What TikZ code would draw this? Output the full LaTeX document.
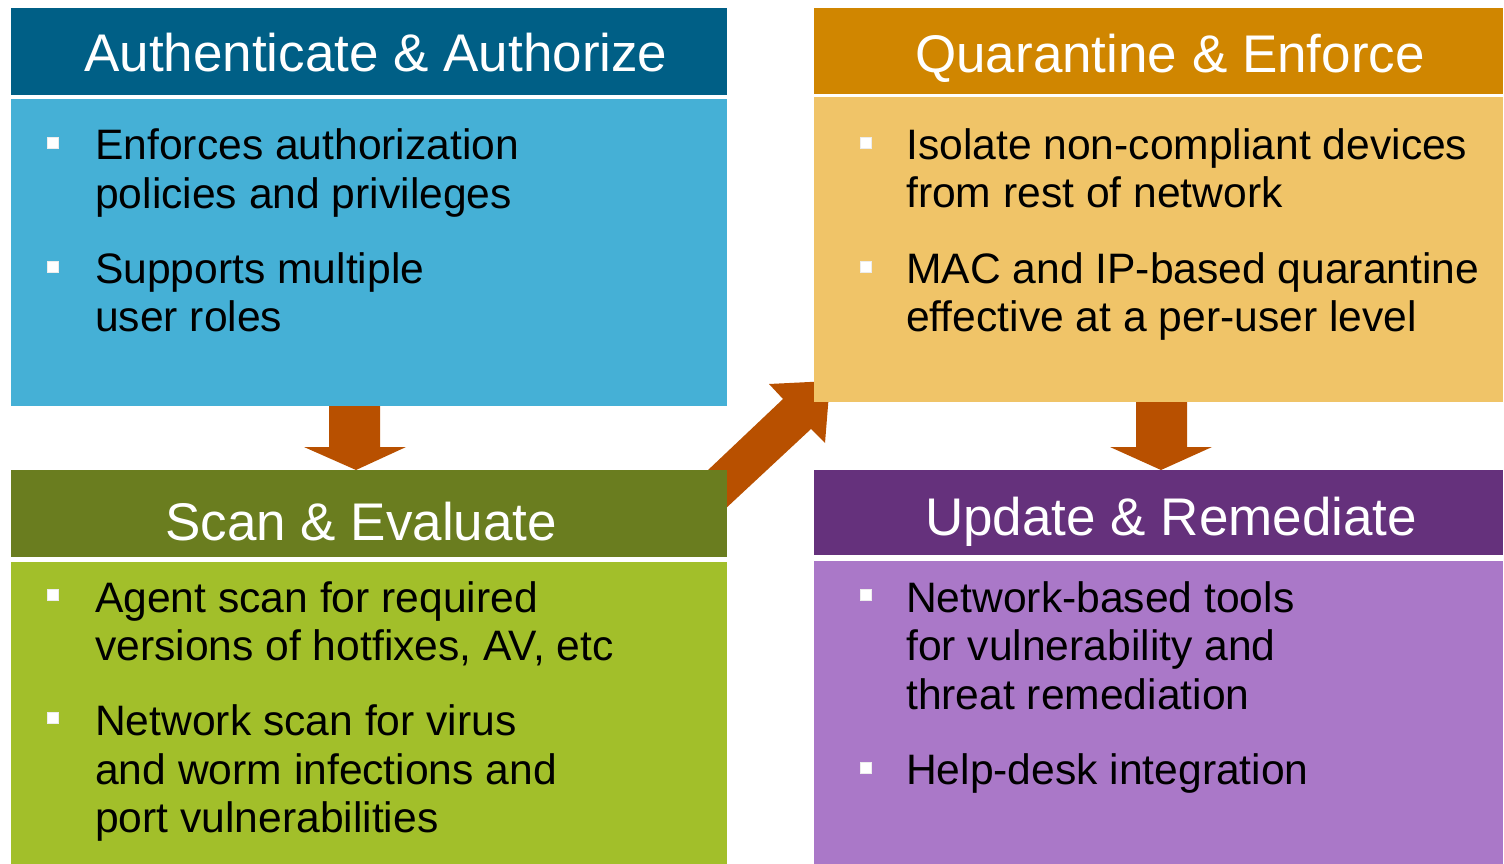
\documentclass[tikz,border=0pt]{standalone}
\usepackage{fontspec}
\setmainfont{Liberation Sans}
\definecolor{hdA}{HTML}{005F86}
\definecolor{bdA}{HTML}{45B0D6}
\definecolor{hdB}{HTML}{6A7D1F}
\definecolor{bdB}{HTML}{A2BF2A}
\definecolor{hdC}{HTML}{D08600}
\definecolor{bdC}{HTML}{F0C468}
\definecolor{hdD}{HTML}{65317C}
\definecolor{bdD}{HTML}{AA78C8}
\definecolor{arr}{HTML}{B85000}
\begin{document}
\begin{tikzpicture}[x=1pt,y=-1pt,
  box/.style={rectangle,inner sep=0pt,anchor=north west,draw=none},
  htxt/.style={anchor=base west,inner sep=0pt,text=white,font=\fontsize{53}{60}\selectfont},
  ln/.style={anchor=base west,inner sep=0pt,font=\fontsize{42.6}{48}\selectfont},
  bul/.style={rectangle,fill=white,draw=white!85!gray,line width=0.6pt,minimum size=11pt,inner sep=0pt}]
\useasboundingbox (0,0) rectangle (1504,864);
% diagonal arrow (behind boxes)
\fill[arr] (650,525) -- (783,399) -- (769,384) -- (830,381) -- (825,443) -- (811,429) -- (680,551) -- cycle;
% boxes
\node[box,fill=hdA,minimum width=716pt,minimum height=87pt] (hA) at (11,8) {};
\node[box,fill=bdA,minimum width=716pt,minimum height=307pt] (bA) at (11,99) {};
\node[box,fill=hdB,minimum width=716pt,minimum height=87pt] (hB) at (11,470) {};
\node[box,fill=bdB,minimum width=716pt,minimum height=302pt] (bB) at (11,562) {};
\node[box,fill=hdC,minimum width=689pt,minimum height=86pt] (hC) at (814,8) {};
\node[box,fill=bdC,minimum width=689pt,minimum height=305pt] (bC) at (814,97) {};
\node[box,fill=hdD,minimum width=689pt,minimum height=85pt] (hD) at (814,470) {};
\node[box,fill=bdD,minimum width=689pt,minimum height=303pt] (bD) at (814,561) {};
% header texts
\node[htxt] (xA) at (84,72) {Authenticate \& Authorize};
\node[htxt] (xB) at (165,540) {Scan \& Evaluate};
\node[htxt] (xC) at (915,73) {Quarantine \& Enforce};
\node[htxt] (xD) at (925,535) {Update \& Remediate};
% down arrows
\fill[arr] (329,406) -- (380,406) -- (380,447) -- (406,447) -- (356,470) -- (304,447) -- (329,447) -- cycle;
\fill[arr] (1136,402) -- (1187,402) -- (1187,447) -- (1212,447) -- (1161,470) -- (1110,447) -- (1136,447) -- cycle;
% bullets
\node[bul] (uA1) at (53,143) {};
\node[bul] (uA2) at (53,267) {};
\node[bul] (uB1) at (53,595) {};
\node[bul] (uB2) at (53,718) {};
\node[bul] (uC1) at (866,143) {};
\node[bul] (uC2) at (866,267) {};
\node[bul] (uD1) at (866,595) {};
\node[bul] (uD2) at (866,768) {};
% texts
\node[ln] (tA1) at (95,160) {Enforces authorization};
\node[ln] (tA2) at (95,208) {policies and privileges};
\node[ln] (tA3) at (95,283) {Supports multiple};
\node[ln] (tA4) at (95,331) {user roles};
\node[ln] (tB1) at (95,612) {Agent scan for required};
\node[ln] (tB2) at (95,660) {versions of hotfixes, AV, etc};
\node[ln] (tB3) at (95,735) {Network scan for virus};
\node[ln] (tB4) at (95,784) {and worm infections and};
\node[ln] (tB5) at (95,832) {port vulnerabilities};
\node[ln] (tC1) at (906,160) {Isolate non-compliant devices};
\node[ln] (tC2) at (906,207) {from rest of network};
\node[ln] (tC3) at (906,283) {MAC and IP-based quarantine};
\node[ln] (tC4) at (906,331) {effective at a per-user level};
\node[ln] (tD1) at (906,612) {Network-based tools};
\node[ln] (tD2) at (906,660) {for vulnerability and};
\node[ln] (tD3) at (906,709) {threat remediation};
\node[ln] (tD4) at (906,784) {Help-desk integration};
\end{tikzpicture}
\end{document}
